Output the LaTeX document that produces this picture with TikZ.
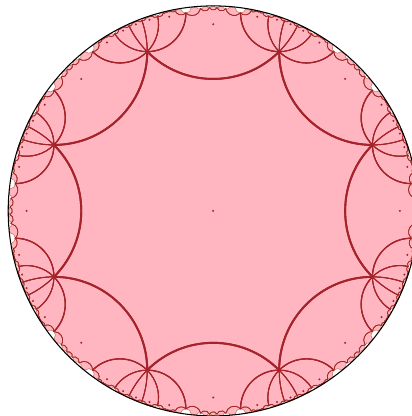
\documentclass[tikz,border=0pt]{standalone}
\definecolor{tilepink}{RGB}{255,182,193}
\definecolor{edgered}{RGB}{165,35,42}
\definecolor{edgetan}{RGB}{190,110,80}
\tikzset{
  tilefill/.style={fill=tilepink},
  edgeline/.style={draw=edgered, line cap=round},
  edgelinefar/.style={draw=edgetan, line width=0.25pt},
  dotfill/.style={fill=edgered},
  rim/.style={draw=black, line width=0.6pt}
}
\ExplSyntaxOn
\fp_new:N \l_hy_cx_fp
\fp_new:N \l_hy_cy_fp
\fp_new:N \l_hy_rr_fp
\fp_new:N \l_hy_det_fp
\fp_new:N \l_hy_ka_fp
\fp_new:N \l_hy_kb_fp
\fp_new:N \l_hy_a_fp
\fp_new:N \l_hy_b_fp
\fp_new:N \l_hy_m_fp
\fp_new:N \l_hy_w_fp
\tl_new:N \g_hy_fill_tl
\tl_new:N \g_hy_edge_tl
\tl_new:N \g_hy_fillb_tl
\tl_new:N \g_hy_edgeb_tl
\tl_new:N \g_hy_dot_tl
\tl_new:N \l_hy_path_tl
\tl_new:N \l_hy_arc_tl
\clist_map_inline:nn { Z, P, Q, R }
 {
  \int_step_inline:nnn {0}{8}
   {
    \fp_new:c { l_hy_#1_x##1_fp }
    \fp_new:c { l_hy_#1_y##1_fp }
   }
 }
\cs_new:Npn \hy_x:nn #1#2 { \fp_use:c { l_hy_#1_x#2_fp } }
\cs_new:Npn \hy_y:nn #1#2 { \fp_use:c { l_hy_#1_y#2_fp } }
\cs_new_protected:Npn \hy_geo:nnnn #1#2#3#4
 {
  \fp_set:Nn \l_hy_det_fp { (#1)*(#4) - (#2)*(#3) }
  \fp_set:Nn \l_hy_ka_fp { (1 + (#1)^2 + (#2)^2)/2 }
  \fp_set:Nn \l_hy_kb_fp { (1 + (#3)^2 + (#4)^2)/2 }
  \fp_set:Nn \l_hy_cx_fp { (\l_hy_ka_fp*(#4) - (#2)*\l_hy_kb_fp)/\l_hy_det_fp }
  \fp_set:Nn \l_hy_cy_fp { ((#1)*\l_hy_kb_fp - \l_hy_ka_fp*(#3))/\l_hy_det_fp }
  \fp_set:Nn \l_hy_rr_fp { \l_hy_cx_fp^2 + \l_hy_cy_fp^2 - 1 }
 }
\cs_new_protected:Npn \hy_reflect:nnnn #1#2#3#4
 {
  \hy_geo:nnnn { \hy_x:nn {#1}{#2} } { \hy_y:nn {#1}{#2} } { \hy_x:nn {#1}{#3} } { \hy_y:nn {#1}{#3} }
  \int_step_inline:nnn {0}{8}
   {
    \fp_set:cn { l_hy_#4_x##1_fp }
     { \l_hy_cx_fp + \l_hy_rr_fp * ( \hy_x:nn {#1}{##1} - \l_hy_cx_fp ) / ( ( \hy_x:nn {#1}{##1} - \l_hy_cx_fp )^2 + ( \hy_y:nn {#1}{##1} - \l_hy_cy_fp )^2 ) }
    \fp_set:cn { l_hy_#4_y##1_fp }
     { \l_hy_cy_fp + \l_hy_rr_fp * ( \hy_y:nn {#1}{##1} - \l_hy_cy_fp ) / ( ( \hy_x:nn {#1}{##1} - \l_hy_cx_fp )^2 + ( \hy_y:nn {#1}{##1} - \l_hy_cy_fp )^2 ) }
   }
 }
% #1 register, #2 #3 vertex indices, #4 layer
\cs_new_protected:Npn \hy_edge:nnnn #1#2#3#4
 {
  \hy_geo:nnnn {\hy_x:nn{#1}{#2}} {\hy_y:nn{#1}{#2}} {\hy_x:nn{#1}{#3}} {\hy_y:nn{#1}{#3}}
  \fp_set:Nn \l_hy_a_fp { atand( \hy_y:nn{#1}{#2} - \l_hy_cy_fp , \hy_x:nn{#1}{#2} - \l_hy_cx_fp ) }
  \fp_set:Nn \l_hy_b_fp { atand( \hy_y:nn{#1}{#3} - \l_hy_cy_fp , \hy_x:nn{#1}{#3} - \l_hy_cx_fp ) }
  \fp_compare:nNnT { \l_hy_b_fp - \l_hy_a_fp } > { 180 } { \fp_sub:Nn \l_hy_b_fp { 360 } }
  \fp_compare:nNnT { \l_hy_b_fp - \l_hy_a_fp } < { -180 } { \fp_add:Nn \l_hy_b_fp { 360 } }
  \tl_set:Nx \l_hy_arc_tl
   { arc [ start~angle = \fp_to_decimal:n { round(\l_hy_a_fp, 4) } ,
           end~angle = \fp_to_decimal:n { round(\l_hy_b_fp, 4) } ,
           radius = \fp_to_decimal:n { round( sqrt(\l_hy_rr_fp), 6 ) } ] }
  \tl_put_right:Nx \l_hy_path_tl { \exp_not:V \l_hy_arc_tl ~ }
  \int_compare:nNnTF {#4} = {1}
   {
    \fp_set:Nn \l_hy_m_fp
     { ( \l_hy_cx_fp + sqrt(\l_hy_rr_fp) * cosd( (\l_hy_a_fp + \l_hy_b_fp)/2 ) )^2
     + ( \l_hy_cy_fp + sqrt(\l_hy_rr_fp) * sind( (\l_hy_a_fp + \l_hy_b_fp)/2 ) )^2 }
    \fp_set:Nn \l_hy_w_fp { 0.35 + 1.25 * ( 1 - \l_hy_m_fp ) }
    \tl_gput_right:Nx \g_hy_edge_tl
     {
      \exp_not:N \draw [ edgeline , line~width = \fp_to_decimal:n { round(\l_hy_w_fp, 3) } pt ]
       ( \fp_to_decimal:n { round( \hy_x:nn{#1}{#2}, 6) } , \fp_to_decimal:n { round( \hy_y:nn{#1}{#2}, 6) } ) ~ \exp_not:V \l_hy_arc_tl ;
     }
   }
   {
    \tl_gput_right:Nx \g_hy_edgeb_tl
     {
      \exp_not:N \draw [ edgelinefar ]
       ( \fp_to_decimal:n { round( \hy_x:nn{#1}{#2}, 6) } , \fp_to_decimal:n { round( \hy_y:nn{#1}{#2}, 6) } ) ~ \exp_not:V \l_hy_arc_tl ;
     }
   }
 }
\cs_new_protected:Npn \hy_add:nn #1#2
 {
  \tl_set:Nx \l_hy_path_tl
   { ( \fp_to_decimal:n { round(\hy_x:nn{#1}{0},6) } , \fp_to_decimal:n { round(\hy_y:nn{#1}{0},6) } ) ~ }
  \int_step_inline:nnn {0}{7}
   { \hy_edge:nnnn {#1} {##1} { \int_mod:nn {##1+1}{8} } {#2} }
  \int_compare:nNnTF {#2} = {1}
   {
    \tl_gput_right:Nx \g_hy_fill_tl { \exp_not:N \fill [ tilefill ] \exp_not:V \l_hy_path_tl -- ~ cycle ; }
    \tl_gput_right:Nx \g_hy_dot_tl
     { \exp_not:N \fill [ dotfill ] ( \fp_to_decimal:n {round(\hy_x:nn{#1}{8},6)} , \fp_to_decimal:n {round(\hy_y:nn{#1}{8},6)} ) ~ circle [ radius = 0.0055 ] ; }
   }
   {
    \tl_gput_right:Nx \g_hy_fillb_tl { \exp_not:N \fill [ tilefill ] \exp_not:V \l_hy_path_tl -- ~ cycle ; }
   }
 }
% layer-one tile in register #1, plus its edge neighbours as far tiles
\cs_new_protected:Npn \hy_addnear:n #1
 {
  \hy_add:nn {#1} {1}
  \int_step_inline:nnn {0}{7}
   {
    \hy_reflect:nnnn {#1} {##1} { \int_mod:nn {##1+1}{8} } {R}
    \hy_add:nn {R} {2}
   }
 }
\int_step_inline:nnn {0}{7}
 {
  \fp_set:cn { l_hy_Z_x#1_fp } { 2^(-0.25) * cosd(22.5 + 45*#1) }
  \fp_set:cn { l_hy_Z_y#1_fp } { 2^(-0.25) * sind(22.5 + 45*#1) }
 }
\fp_set:cn { l_hy_Z_x8_fp } { 0 }
\fp_set:cn { l_hy_Z_y8_fp } { 0 }
\hy_add:nn {Z} {1}
\int_step_inline:nnn {0}{7}
 {
  \hy_reflect:nnnn {Z} {#1} { \int_mod:nn {#1+1}{8} } {P}  \hy_addnear:n {P}
  \hy_reflect:nnnn {P} { \int_mod:nn {#1+7}{8} } {#1} {Q}  \hy_addnear:n {Q}
  \hy_reflect:nnnn {Q} {#1} { \int_mod:nn {#1+1}{8} } {P}  \hy_addnear:n {P}
  \hy_reflect:nnnn {P} { \int_mod:nn {#1+7}{8} } {#1} {Q}  \hy_addnear:n {Q}
  \hy_reflect:nnnn {Q} {#1} { \int_mod:nn {#1+1}{8} } {P}  \hy_addnear:n {P}
  \hy_reflect:nnnn {P} { \int_mod:nn {#1+7}{8} } {#1} {Q}  \hy_addnear:n {Q}
 }
\newcommand\hytilefills { \tl_use:N \g_hy_fillb_tl \tl_use:N \g_hy_fill_tl }
\newcommand\hytileedges { \tl_use:N \g_hy_edgeb_tl \tl_use:N \g_hy_edge_tl }
\newcommand\hytiledots { \tl_use:N \g_hy_dot_tl }
\ExplSyntaxOff
\begin{document}
\begin{tikzpicture}
\useasboundingbox (0,0) rectangle (8.22,8.32);
\fill[white] (0,0) rectangle (8.22,8.32);
\begin{scope}[shift={(4.264,4.102)}, scale=4.1]
  \hytilefills
  \hytileedges
  \hytiledots
  \draw[rim] (0,0) circle[radius=1];
\end{scope}
\end{tikzpicture}
\end{document}
